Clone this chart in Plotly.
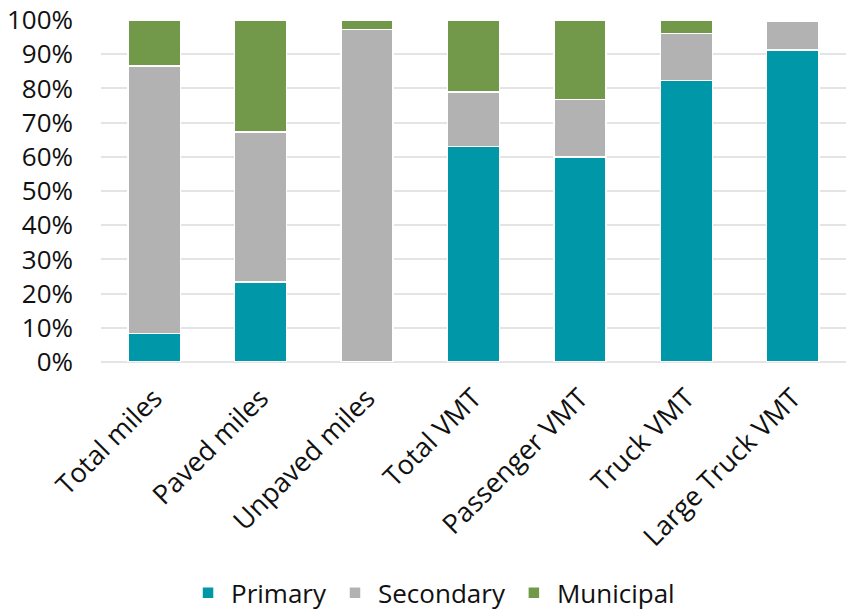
import plotly.graph_objects as go

# Share of road miles and vehicle miles travelled by road system
categories = ["Total miles", "Paved miles", "Unpaved miles", "Total VMT",
              "Passenger VMT", "Truck VMT", "Large Truck VMT"]
primary = [8.4, 23.4, 0.0, 63.0, 60.0, 82.3, 91.2]
secondary = [78.1, 43.9, 97.2, 16.0, 16.7, 13.7, 8.3]
municipal = [13.5, 32.7, 2.8, 21.0, 23.3, 4.0, 0.5]

tick_vals = list(range(0, 101, 10))
tick_text = [f"{v}%" for v in tick_vals]

series = [
    ("Primary", primary, "#0097A9"),
    ("Secondary", secondary, "#B1B2B1"),
    ("Municipal", municipal, "#72984A"),
]

fig = go.Figure()
for name, vals, color in series:
    fig.add_trace(go.Bar(
        x=categories, y=vals, name=name,
        marker=dict(color=color, line=dict(color="white", width=1.5)),
        width=0.49,
    ))

font_family = "Open Sans, Noto Sans, sans-serif"
fig.update_layout(
    barmode="stack",
    width=846, height=616,
    margin=dict(l=101, r=0, t=20, b=254, autoexpand=False),
    paper_bgcolor="white", plot_bgcolor="white",
    font=dict(family=font_family, size=26, color="#111111"),
    showlegend=True,
    legend=dict(orientation="h", x=0.445, xanchor="center", y=-0.675,
                yanchor="middle", font=dict(size=26), traceorder="normal",
                itemwidth=36),
    xaxis=dict(tickangle=-45, showgrid=False, zeroline=False,
               showline=False, ticks="", tickfont=dict(size=27),
               automargin=False, ticklabelstandoff=14),
    yaxis=dict(range=[0, 100], tickvals=tick_vals, ticktext=tick_text,
               showgrid=True, gridcolor="#E4E4E4", gridwidth=1.5,
               zeroline=True, zerolinecolor="#E4E4E4", zerolinewidth=1.5,
               showline=False, ticks="", ticklabelstandoff=27,
               automargin=False, tickfont=dict(size=26)),
)

fig.write_html("out.html")
